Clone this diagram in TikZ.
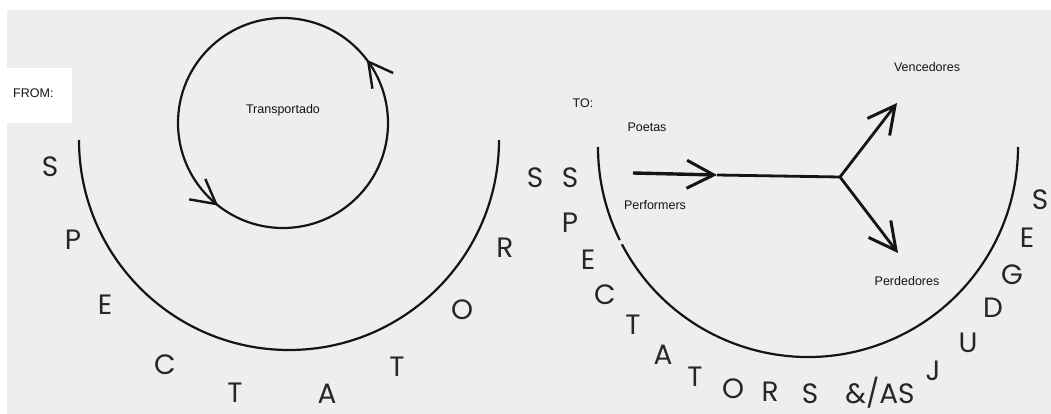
\documentclass[tikz,border=0pt]{standalone}
\usepackage{fontspec}
\setmainfont{Liberation Sans}
\newfontfamily\geofont{Poppins}
\usepackage{tikz}
\usetikzlibrary{arrows.meta,decorations.markings}
\definecolor{papercol}{RGB}{238,238,236}
\definecolor{inkcol}{RGB}{20,20,20}

\begin{document}
\begin{tikzpicture}[x=1pt, y=1pt,
  lbl/.style={font=\fontsize{12.5}{14}\selectfont, text=inkcol, inner sep=1pt},
  ltr/.style={font=\geofont\fontsize{28}{30}\selectfont, text=black!85, inner sep=0pt},
  ring/.style={line width=2.2pt, draw=inkcol},
  barb/.style={-{Straight Barb[length=27pt, width=28pt, line width=3pt]}},
  ar/.style={line width=3.4pt, draw=inkcol, barb}
]
\clip (0,0) rectangle (1051,-414);
\fill[white] (0,0) rectangle (1051,-414);
\fill[papercol] (7,-10) rectangle (1051,-414);
\fill[white] (7,-68) rectangle (72,-123);

% FROM: the spectator is carried round
\node[lbl, anchor=west] (from) at (12,-93) {FROM:};
\draw[ring, postaction={decorate}, decoration={markings,
      mark=at position 0.103 with {\arrow[inkcol, line width=2.4pt]{Straight Barb[length=24pt, width=26pt]}},
      mark=at position 0.644 with {\arrow[inkcol, line width=2.4pt]{Straight Barb[length=24pt, width=26pt]}}}]
  (283,-123) circle[radius=105];
\node[lbl] (trans) at (283,-110) {Transportado};
\draw[ring] (79,-140) arc[start angle=180, end angle=360, radius=210];

\foreach \c/\x/\y in {S/50/167, P/73/240, E/105/305, C/165/365, T/235/393,
                      A/327/394, T/397/367, O/462/310, R/505/248, S/535/178}
  \node[ltr] at (\x,-\y) {\c};

% TO: performers split into winners and losers
\node[lbl] (to) at (583,-103) {TO:};
\node[lbl] (poetas) at (647,-127) {Poetas};
\node[lbl] (perf) at (655,-205) {Performers};
\node[lbl] (venc) at (927,-67) {Vencedores};
\node[lbl] (perd) at (907,-281) {Perdedores};

\draw[ring] (598,-147) arc[start angle=180, end angle=206.3, radius=210];
\draw[ring] (808,-147) ++(207.6:210) arc[start angle=207.6, end angle=360, radius=210];

\coordinate (src)  at (633,-173);
\coordinate (mid)  at (717,-175);
\coordinate (fork) at (840,-177);
\coordinate (win)  at (897,-103);
\coordinate (lose) at (898,-253);

\draw[ar] (src) -- (mid);
\draw[line width=2.8pt, draw=inkcol] (mid) -- (fork);
\draw[ar, line width=2.8pt] (fork) -- (win);
\draw[ar, line width=2.8pt] (fork) -- (lose);

\foreach \c/\x/\y in {S/570/178, P/570/223, E/588/260, C/605/295, T/633/325,
                      A/663/355, T/695/377, O/733/389, R/770/392, S/810/394,
                      {\&/AS}/880/393, J/933/371, U/968/343, D/993/308, G/1012/275,
                      E/1027/238, S/1040/200}
  \node[ltr] at (\x,-\y) {\c};

\end{tikzpicture}
\end{document}
